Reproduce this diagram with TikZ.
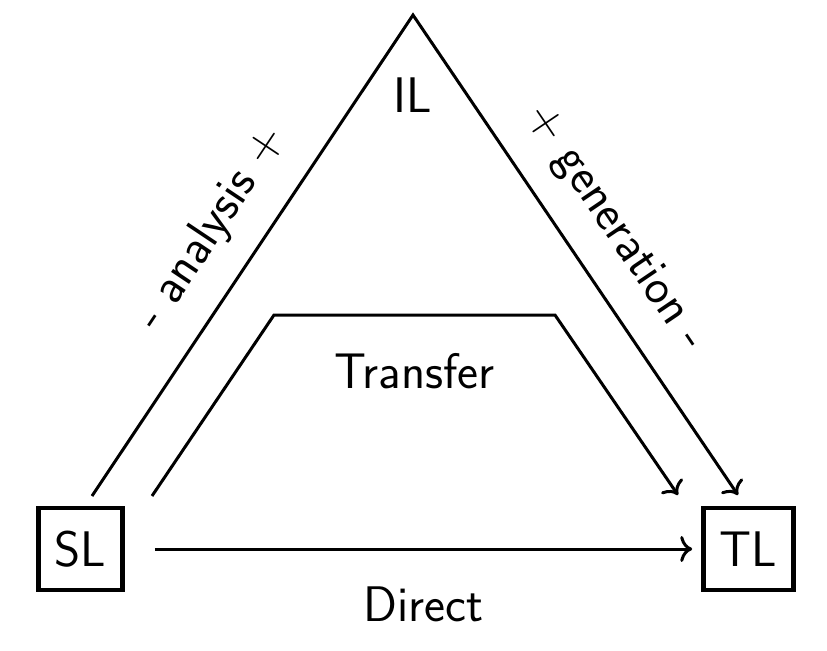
\documentclass[tikz,border=0pt]{standalone}
\usepackage{tikz}
\usetikzlibrary{positioning, arrows.meta}
\tikzset{lang/.style = {draw, rectangle, line width = 2.3pt, minimum width = 42pt, minimum height = 41pt}}
\tikzset{flow/.style = {-{To[length = 6pt, width = 13pt]}, line width = 1.5pt}}

\begin{document}
\begin{tikzpicture}[x = 0.5pt, y = 0.5pt, every node/.style = {font = \fontsize{25}{30}\selectfont\sffamily}]
        \useasboundingbox (0, 0) rectangle (827, 650);

        \node [lang] (SL) at (80.5, 101) {SL};
        \node [lang, minimum width = 45pt] (TL) at (748.5, 101) {TL};
        \node (IL) at (413, 555) {IL};

        \coordinate (apex) at (413, 635);
        \coordinate (up) at (92, 154);
        \coordinate (down) at (738, 155);
        \coordinate (t0) at (152, 154);
        \coordinate (t1) at (274, 335);
        \coordinate (t2) at (555, 335);
        \coordinate (t3) at (678, 155);
        \coordinate (d0) at ([xshift = 15pt] SL.east);
        \coordinate (d1) at ([xshift = -4.5pt] TL.west);

        % Pyramid
        \draw [flow] (up) -- node [sloped, above = 9pt] {- analysis +} (apex) -- node [sloped, above = 9pt] {+ generation -} (down);

        % Transfer
        \draw [flow] (t0) -- (t1) -- node [below = 15pt] {Transfer} (t2) -- (t3);

        % Direct
        \draw [flow] (d0) -- node [below = 15pt] {Direct} (d1);

\end{tikzpicture}
\end{document}
